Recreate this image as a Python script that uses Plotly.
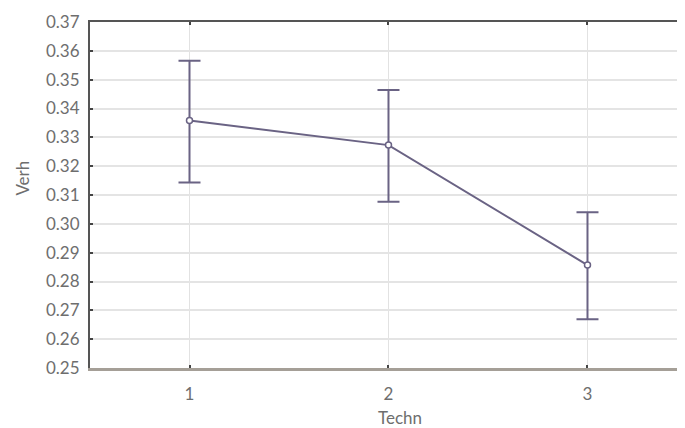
import plotly.graph_objects as go

categories = [1, 2, 3]
means = [0.3358, 0.3273, 0.2857]
upper = [0.3566, 0.3464, 0.3040]
lower = [0.3143, 0.3077, 0.2669]
y_ticks = [0.25, 0.26, 0.27, 0.28, 0.29, 0.30, 0.31, 0.32, 0.33, 0.34, 0.35, 0.36, 0.37]
y_tick_text = ["0.25", "0.26", "0.27", "0.28", "0.29", "0.30", "0.31", "0.32",
               "0.33", "0.34", "0.35", "0.36", "0.37"]

err_plus = [u - m for u, m in zip(upper, means)]
err_minus = [m - l for m, l in zip(means, lower)]

line_col = "#6a6384"
text_col = "#6e6e6e"
font_fam = "Lato, 'Open Sans', sans-serif"

fig = go.Figure()
fig.add_trace(go.Scatter(
    x=categories, y=means, mode="lines+markers",
    line=dict(color=line_col, width=2),
    marker=dict(symbol="circle", size=6, color="white",
                line=dict(color=line_col, width=1.5)),
    error_y=dict(type="data", symmetric=False, array=err_plus, arrayminus=err_minus,
                 color=line_col, thickness=2, width=11),
    showlegend=False,
))
# invisible trace for mirrored axes
fig.add_trace(go.Scatter(x=categories, y=means, xaxis="x2", yaxis="y2",
                         mode="markers", marker=dict(opacity=0), showlegend=False,
                         hoverinfo="skip"))

fig.update_layout(
    width=677, height=420,
    margin=dict(l=82, r=0, t=14, b=60, autoexpand=False),
    paper_bgcolor="white", plot_bgcolor="white",
    font=dict(family=font_fam, color=text_col, size=17),
    xaxis=dict(range=[0.5, 3.49], tickvals=categories, ticktext=[str(c) for c in categories],
               showgrid=True, gridcolor="#e2e2e2", gridwidth=1,
               showline=True, linecolor="#a59f97", linewidth=3,
               ticks="inside", ticklen=3, tickcolor="#444", tickwidth=2,
               zeroline=False, ticklabelstandoff=9, automargin=False,
               tickfont=dict(size=17, color=text_col)),
    yaxis=dict(range=[0.25, 0.37], tickvals=y_ticks, ticktext=y_tick_text,
               showgrid=True, gridcolor="#e4e4e4", gridwidth=1.5,
               showline=True, linecolor="#555", linewidth=2,
               ticks="inside", ticklen=3, tickcolor="#444", tickwidth=2,
               zeroline=False, ticklabelstandoff=5, automargin=False,
               tickfont=dict(size=17, color=text_col)),
    xaxis2=dict(overlaying="x", side="top", matches="x", range=[0.5, 3.49],
                tickvals=categories, showticklabels=False, showgrid=False,
                showline=True, linecolor="#555", linewidth=2,
                ticks="inside", ticklen=3, tickcolor="#444", tickwidth=2, zeroline=False),
    yaxis2=dict(overlaying="y", side="right", matches="y", range=[0.25, 0.37],
                tickvals=y_ticks, showticklabels=False, showgrid=False, showline=False,
                ticks="inside", ticklen=3, tickcolor="#444", tickwidth=2, zeroline=False),
    annotations=[
        dict(text="Techn", xref="paper", yref="paper", x=0.521, y=-0.142,
             xanchor="center", yanchor="middle", showarrow=False,
             font=dict(size=17, color=text_col)),
        dict(text="Verh", xref="paper", yref="paper", x=-0.115, y=0.549,
             xanchor="center", yanchor="middle", showarrow=False, textangle=-90,
             font=dict(size=17, color=text_col)),
    ],
)

fig.write_html("out.html")
